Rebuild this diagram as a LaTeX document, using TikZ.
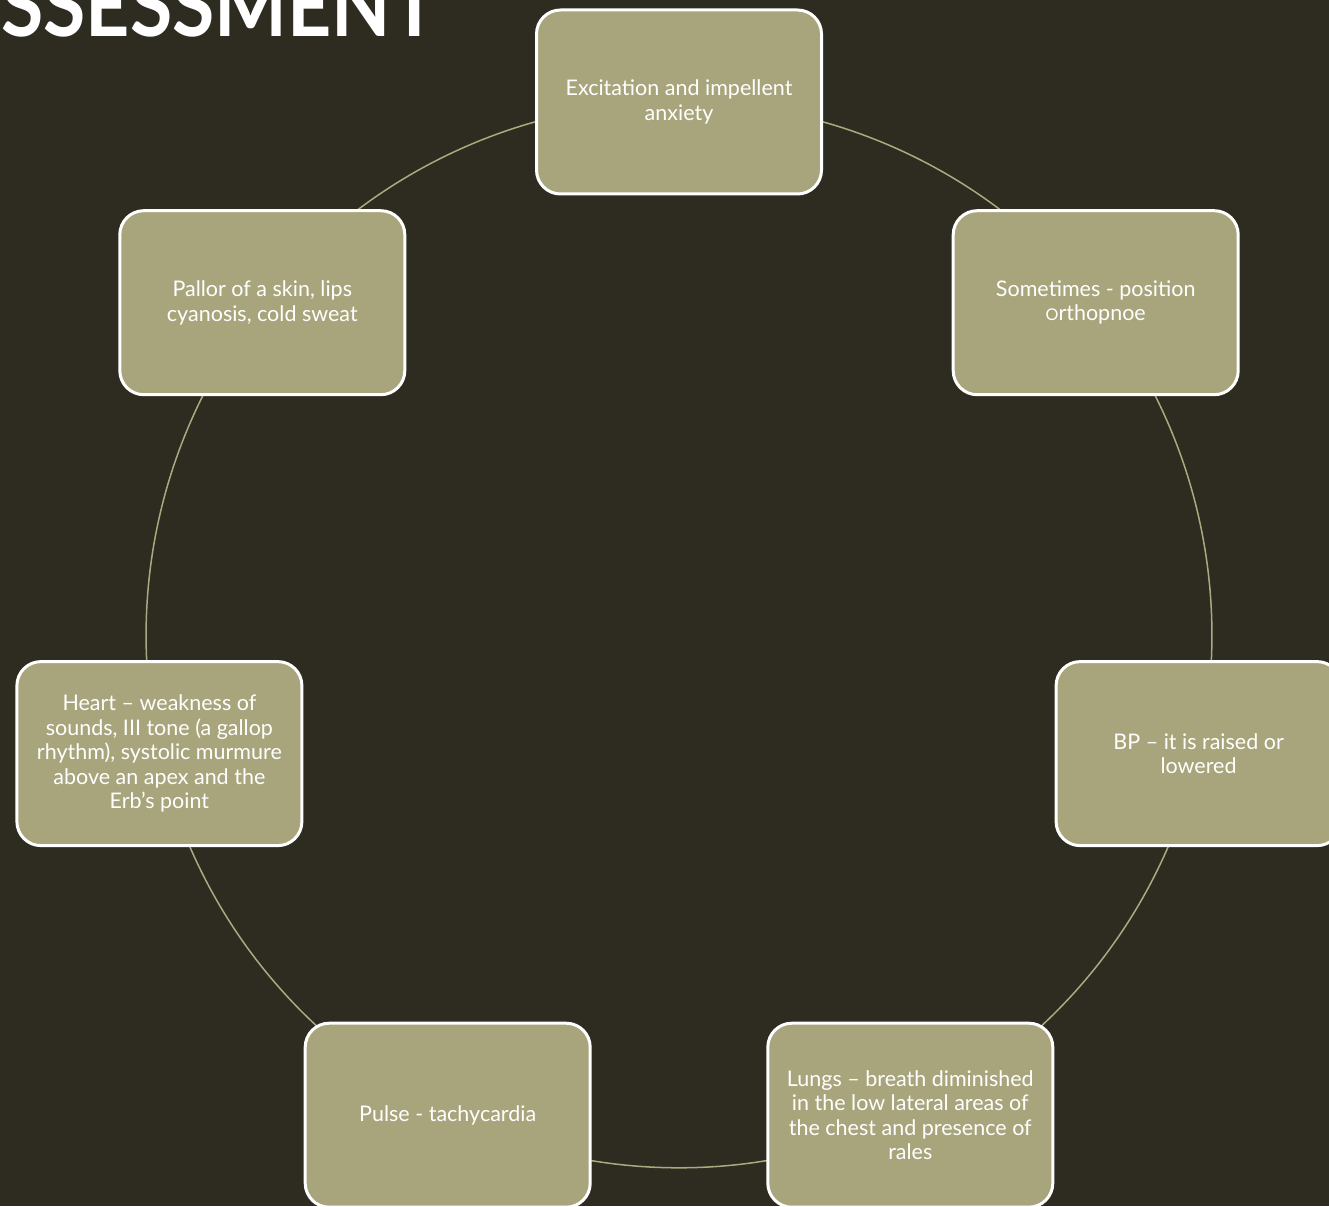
\documentclass[tikz,border=0pt]{standalone}
\usepackage{fontspec}
\usepackage{graphicx}
\newfontfamily\boxfont{Lato}
\newfontfamily\titlefont{Lato}
\definecolor{bgc}{RGB}{46,43,33}
\definecolor{boxc}{RGB}{168,165,124}
\definecolor{arcc}{RGB}{172,169,128}
\pgfdeclarelayer{background}
\pgfsetlayers{background,main}
\begin{document}
\begin{tikzpicture}[x=1pt,y=-1pt,
  card/.style={draw=white, line width=3pt, fill=boxc, rounded corners=24pt,
    minimum width=285pt, minimum height=184pt, text=white, align=center,
    font=\boxfont\fontsize{21.5}{24.5}\selectfont, inner sep=0pt},
  link/.style={draw=arcc, line width=1.5pt, bend left=25.714, looseness=0.896}]
\useasboundingbox (0,0) rectangle (1329,1206);
\begin{pgfonlayer}{background}
  \fill[bgc] (0,0) rectangle (1329,1206);
\end{pgfonlayer}
\clip (0,0) rectangle (1329,1206);
\node[anchor=south west, inner sep=0pt, text=white] (title) at (1,37)
  {\resizebox{436pt}{64pt}{\titlefont\bfseries SSESSMENT}};
\node[card] (n1) at (679,102)    {Excitation and impellent\\anxiety};
\node[card] (n2) at (1095.7,302.7) {Sometimes - position\\{\scalebox{0.75}{O}}rthopnoe};
\node[card] (n3) at (1198.6,753.6) {BP – it is raised or\\lowered};
\node[card] (n4) at (910.3,1115.2) {Lungs – breath diminished\\in the low lateral areas of\\the chest and presence of\\rales};
\node[card] (n5) at (447.7,1115.2) {Pulse - tachycardia};
\node[card] (n6) at (159.4,753.6)  {Heart – weakness of\\sounds, III tone (a gallop\\rhythm), systolic murmure\\above an apex and the\\Erb’s point};
\node[card] (n7) at (262.3,302.7)  {Pallor of a skin, lips\\cyanosis, cold sweat};
\begin{pgfonlayer}{background}
  \draw[link] (n1.center) to (n2.center);
  \draw[link] (n2.center) to (n3.center);
  \draw[link] (n3.center) to (n4.center);
  \draw[link] (n4.center) to (n5.center);
  \draw[link] (n5.center) to (n6.center);
  \draw[link] (n6.center) to (n7.center);
  \draw[link] (n7.center) to (n1.center);
\end{pgfonlayer}
\end{tikzpicture}
\end{document}
